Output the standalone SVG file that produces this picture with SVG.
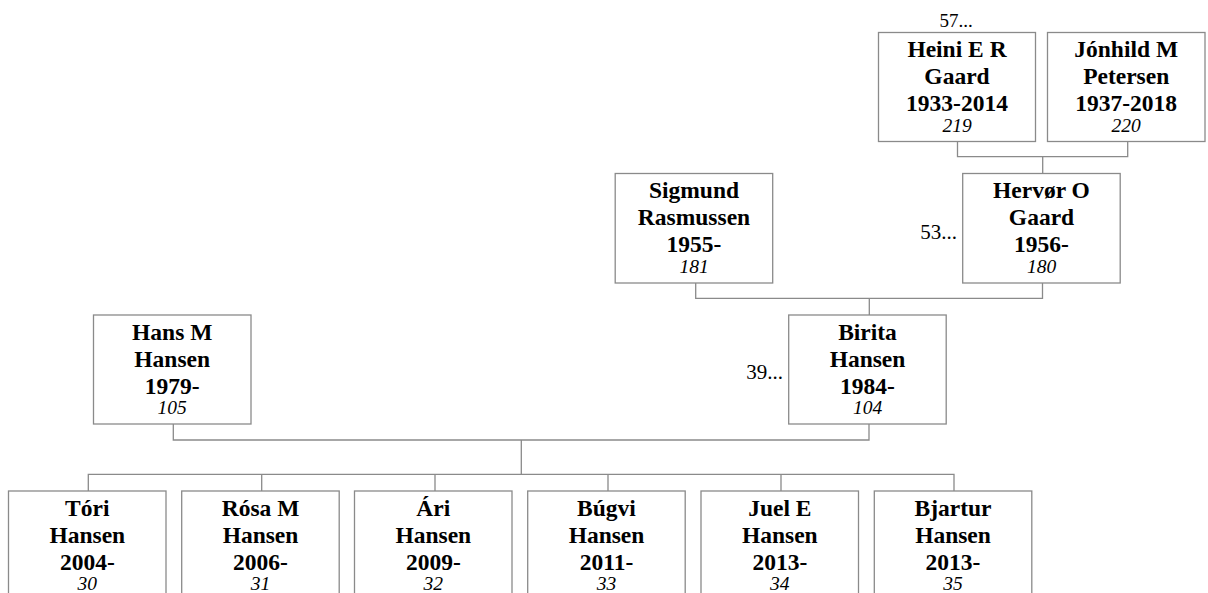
<svg xmlns="http://www.w3.org/2000/svg" width="1208" height="593" viewBox="0 0 1208 593">
<style>
.box{fill:#fff;stroke:#8a8a8a;stroke-width:1.3}
.ln{fill:none;stroke:#8a8a8a;stroke-width:1.3}
.n{font-family:"Liberation Serif","Times New Roman",serif;font-weight:bold;font-size:23.5px;fill:#000;text-anchor:middle}
.i{font-family:"Liberation Serif","Times New Roman",serif;font-style:italic;font-size:19.5px;fill:#000;text-anchor:middle}
.r{font-family:"Liberation Serif","Times New Roman",serif;font-size:21px;fill:#000}
</style>
<rect width="1208" height="593" fill="#fff"/>
<g id="connectors">
<path class="ln" d="M957.5,141.5V156.7H1127.7V141M1042.7,156.7V173.5"/>
<path class="ln" d="M695.7,283V298.3H1042.5V283M869.3,298.3V315"/>
<path class="ln" d="M173.3,424V440H869V424M521.3,440V474.3"/>
<path class="ln" d="M88.3,491V474.3H954V491M261.7,474.3V491M435,474.3V491M608,474.3V491M781,474.3V491"/>
</g>
<g id="heini">
<rect class="box" x="878.5" y="32.5" width="157" height="109"/>
<text class="n" x="957" y="57">Heini E R</text>
<text class="n" x="957" y="84">Gaard</text>
<text class="n" x="957" y="111">1933-2014</text>
<text class="i" x="957" y="131.5">219</text>
<text class="r" x="956" y="27" text-anchor="middle" style="font-size:19px">57...</text>
</g>
<g id="jonhild">
<rect class="box" x="1047.5" y="32.5" width="157.5" height="109"/>
<text class="n" x="1126.2" y="57">Jónhild M</text>
<text class="n" x="1126.2" y="84">Petersen</text>
<text class="n" x="1126.2" y="111">1937-2018</text>
<text class="i" x="1126.2" y="131.5">220</text>
</g>
<g id="sigmund">
<rect class="box" x="615.2" y="173.5" width="157.5" height="109.5"/>
<text class="n" x="694" y="197.7">Sigmund</text>
<text class="n" x="694" y="224.7">Rasmussen</text>
<text class="n" x="694" y="251.5">1955-</text>
<text class="i" x="694" y="272.5">181</text>
</g>
<g id="hervor">
<rect class="box" x="962.7" y="173.5" width="157.5" height="109.5"/>
<text class="n" x="1041.5" y="197.7">Hervør O</text>
<text class="n" x="1041.5" y="224.7">Gaard</text>
<text class="n" x="1041.5" y="251.5">1956-</text>
<text class="i" x="1041.5" y="272.5">180</text>
<text class="r" x="957" y="238.5" text-anchor="end">53...</text>
</g>
<g id="hans">
<rect class="box" x="93.5" y="315" width="157.5" height="109"/>
<text class="n" x="172.2" y="339.5">Hans M</text>
<text class="n" x="172.2" y="366.5">Hansen</text>
<text class="n" x="172.2" y="393.5">1979-</text>
<text class="i" x="172.2" y="414">105</text>
</g>
<g id="birita">
<rect class="box" x="788.7" y="315" width="157.5" height="109"/>
<text class="n" x="867.5" y="339.5">Birita</text>
<text class="n" x="867.5" y="366.5">Hansen</text>
<text class="n" x="867.5" y="393.5">1984-</text>
<text class="i" x="867.5" y="414">104</text>
<text class="r" x="783" y="379" text-anchor="end">39...</text>
</g>
<g id="tori">
<rect class="box" x="8.5" y="491" width="157.5" height="109"/>
<text class="n" x="87.3" y="515.5">Tóri</text>
<text class="n" x="87.3" y="542.5">Hansen</text>
<text class="n" x="87.3" y="569.5">2004-</text>
<text class="i" x="87.3" y="590">30</text>
</g>
<g id="rosa">
<rect class="box" x="181.7" y="491" width="157.5" height="109"/>
<text class="n" x="260.5" y="515.5">Rósa M</text>
<text class="n" x="260.5" y="542.5">Hansen</text>
<text class="n" x="260.5" y="569.5">2006-</text>
<text class="i" x="260.5" y="590">31</text>
</g>
<g id="ari">
<rect class="box" x="354.5" y="491" width="157.5" height="109"/>
<text class="n" x="433.3" y="515.5">Ári</text>
<text class="n" x="433.3" y="542.5">Hansen</text>
<text class="n" x="433.3" y="569.5">2009-</text>
<text class="i" x="433.3" y="590">32</text>
</g>
<g id="bugvi">
<rect class="box" x="527.7" y="491" width="157.5" height="109"/>
<text class="n" x="606.5" y="515.5">Búgvi</text>
<text class="n" x="606.5" y="542.5">Hansen</text>
<text class="n" x="606.5" y="569.5">2011-</text>
<text class="i" x="606.5" y="590">33</text>
</g>
<g id="juel">
<rect class="box" x="701" y="491" width="157.5" height="109"/>
<text class="n" x="779.8" y="515.5">Juel E</text>
<text class="n" x="779.8" y="542.5">Hansen</text>
<text class="n" x="779.8" y="569.5">2013-</text>
<text class="i" x="779.8" y="590">34</text>
</g>
<g id="bjartur">
<rect class="box" x="874.3" y="491" width="157.5" height="109"/>
<text class="n" x="953" y="515.5">Bjartur</text>
<text class="n" x="953" y="542.5">Hansen</text>
<text class="n" x="953" y="569.5">2013-</text>
<text class="i" x="953" y="590">35</text>
</g>
</svg>
